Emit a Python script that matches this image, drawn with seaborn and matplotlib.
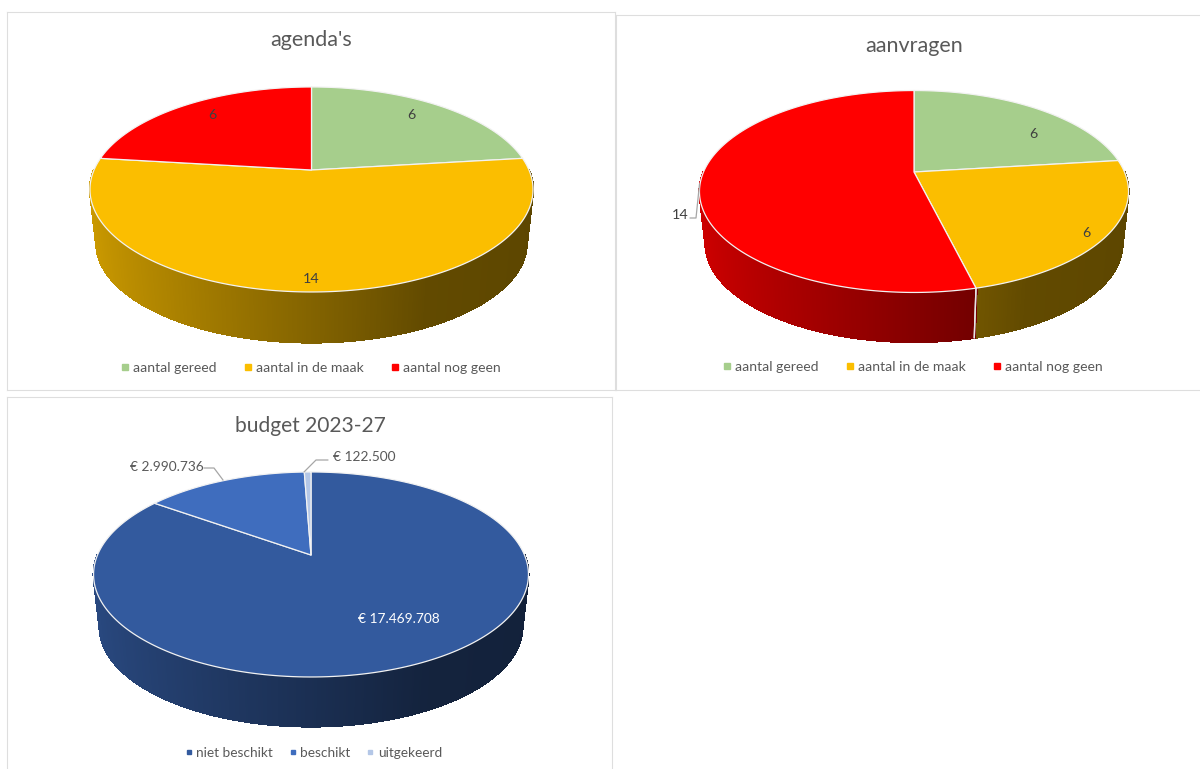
import numpy as np
import seaborn as sns
import matplotlib.pyplot as plt
from matplotlib.collections import PolyCollection
from matplotlib.colors import to_rgb
from matplotlib.lines import Line2D

# Values
agenda_values = [6, 14, 6]
aanvragen_values = [6, 6, 14]
budget_values = [17469708, 2990736, 122500]

status_labels = ["aantal gereed", "aantal in de maak", "aantal nog geen"]
budget_labels = ["niet beschikt", "beschikt", "uitgekeerd"]

agenda_text = ["6", "14", "6"]
aanvragen_text = ["6", "6", "14"]
budget_text = ["€ 17.469.708", "€ 2.990.736", "€ 122.500"]

sns.set_theme(style="white")
plt.rcParams["font.family"] = ["Lato", "DejaVu Sans"]

status_colors = sns.color_palette(["#A6CE8C", "#FBBE00", "#FF0000"])
budget_colors = sns.color_palette(["#335A9E", "#3F6DBE", "#B4C7E7"])

GREY = "#595959"
W, H = 1200, 769
fig = plt.figure(figsize=(12, 7.69), dpi=100, facecolor="white")


def panel(x0, y0, x1, y1):
    ax = fig.add_axes([x0 / W, 1 - y1 / H, (x1 - x0) / W, (y1 - y0) / H])
    return ax, (x0, x1, y0, y1)


def project(theta, cx, cy, r, k, p, scale=1.0, dz=0.0):
    # perspective view of the unit circle, the way Excel tilts a 3D pie
    x = np.cos(np.radians(theta))
    y = np.sin(np.radians(theta))
    w = 1 + p * y
    return cx + scale * r * x / w, cy - scale * k * y / w + dz


def pie3d(ax, box, values, colors, cx, cy, r, k, p, dz):
    wedges, _ = ax.pie(values, startangle=90, counterclock=False, colors=colors)
    angles = [(w.theta1, w.theta2) for w in wedges]
    for w in wedges:
        w.remove()
    ax.set_aspect("auto")
    ax.set_xlim(box[0], box[1])
    ax.set_ylim(box[3], box[2])

    # side wall, shaded from left to right
    for (t1, t2), col in zip(angles, colors):
        steps = np.arange(t1, t2 + 0.5, 0.5)
        quads, shades = [], []
        base = np.array(to_rgb(col))
        for a, b in zip(steps[:-1], steps[1:]):
            mid = (a + b) / 2
            if np.sin(np.radians(mid)) > 0:
                continue
            xa, ya = project(a, cx, cy, r, k, p)
            xb, yb = project(b, cx, cy, r, k, p)
            xc, yc = project(b, cx, cy, r, k, p, 0.972, dz)
            xd, yd = project(a, cx, cy, r, k, p, 0.972, dz)
            quads.append([(xa, ya), (xb, yb), (xc, yc), (xd, yd)])
            f = np.interp(np.cos(np.radians(mid)), [-1, 0.45, 1], [0.82, 0.39, 0.37])
            shades.append(base * f)
        if quads:
            ax.add_collection(PolyCollection(quads, facecolors=shades, edgecolors=shades,
                                             linewidths=0.8, antialiaseds=False, zorder=1))

    # seams on the front of the wall
    for t1, t2 in angles:
        for t in (t1, t2):
            if np.sin(np.radians(t)) < -0.1:
                xa, ya = project(t, cx, cy, r, k, p)
                xb, yb = project(t, cx, cy, r, k, p, 0.972, dz)
                ax.plot([xa, xb], [ya, yb], color="#E6E6E6", lw=1, zorder=2)

    # top face
    for (t1, t2), col in zip(angles, colors):
        th = np.linspace(t1, t2, 240)
        xs, ys = project(th, cx, cy, r, k, p)
        ax.fill(np.r_[cx, xs], np.r_[cy, ys], facecolor=col, edgecolor="#F2F2F2",
                lw=0.9, joinstyle="round", zorder=3)


def finish(ax, title, title_y, title_x, title_size, handles_labels, colors, legend_xy,
           spacing, legend_size=10.1, ms=4, hide=()):
    ax.text(title_x, title_y, title, ha="center", va="center", fontsize=title_size,
            color=GREY, zorder=5)
    handles = [Line2D([], [], marker="s", ls="none", ms=ms, color=c) for c in colors]
    ax.legend(handles, handles_labels, ncols=3, loc="center", bbox_to_anchor=legend_xy,
              bbox_transform=ax.transData, frameon=False, fontsize=legend_size,
              labelcolor=GREY, handletextpad=0.0, columnspacing=spacing, handlelength=1.1)
    ax.set_frame_on(True)
    for name, s in ax.spines.items():
        s.set_color("#DEDEDE")
        s.set_linewidth(0.8)
        s.set_visible(name not in hide)


ax1, box1 = panel(7, 12, 615, 390)
pie3d(ax1, box1, agenda_values, status_colors, 311.5, 170, 217.5, 98.8, 0.19, 54)
finish(ax1, "agenda's", 40.5, 311, 15.5, status_labels, status_colors, (309, 368), 1.7)
for s, xy in zip(agenda_text, [(411, 115), (311, 279), (212, 115)]):
    ax1.text(*xy, s, ha="center", va="center", fontsize=10.3, color="#404040", zorder=6)

ax2, box2 = panel(615.5, 15, 1200, 390)
pie3d(ax2, box2, aanvragen_values, status_colors, 914, 172, 210.5, 97.2, 0.193, 53)
finish(ax2, "aanvragen", 45.5, 914, 15.5, status_labels, status_colors, (911, 367), 1.7, hide=("right",))
for s, xy in zip(aanvragen_text, [(1033, 134), (1086, 233), (680, 215)]):
    ax2.text(*xy, s, ha="center", va="center", fontsize=10.3, color="#404040", zorder=6)
ax2.plot([690, 696, 699.5], [218, 218, 184], color="#A6A6A6", lw=0.9, zorder=4)

ax3, box3 = panel(7, 396.5, 612, 769)
pie3d(ax3, box3, budget_values, budget_colors, 311, 555, 213.5, 98.8, 0.19, 53)
finish(ax3, "budget 2023-27", 425.5, 310, 15.1, budget_labels, budget_colors, (311.5, 753), 0.9,
       legend_size=9.85, ms=3, hide=("bottom",))
ax3.text(399, 619, budget_text[0], ha="center", va="center", fontsize=9.9, color="white", zorder=6)
ax3.text(167, 467, budget_text[1], ha="center", va="center", fontsize=9.9, color=GREY, zorder=6)
ax3.text(364, 457, budget_text[2], ha="center", va="center", fontsize=9.9, color=GREY, zorder=6)
ax3.plot([204, 214, 223], [468, 468, 480], color="#A6A6A6", lw=0.9, zorder=4)
ax3.plot([328, 316, 304], [460, 460, 472], color="#A6A6A6", lw=0.9, zorder=4)

fig.savefig("out.png", dpi=100)
